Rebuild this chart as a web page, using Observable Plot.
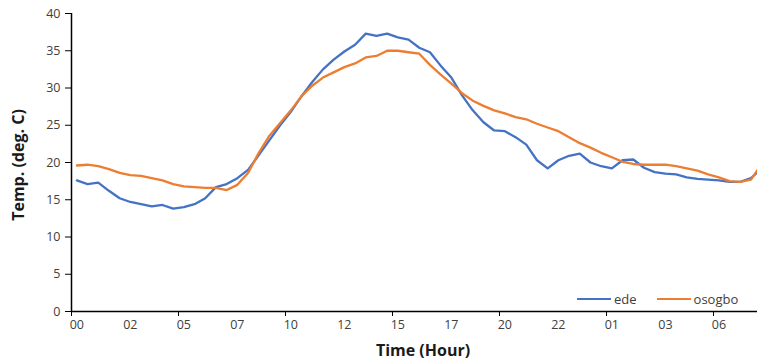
<!DOCTYPE html>
<html><head><meta charset="utf-8">
<script src="https://cdn.jsdelivr.net/npm/d3@7"></script>
<script src="https://cdn.jsdelivr.net/npm/@observablehq/plot@0.6"></script>
<style>
body{margin:0;background:#fff;}
#wrap{position:relative;width:757px;height:360px;overflow:hidden;}
.legend{position:absolute;left:577px;top:290px;font:13px 'Open Sans',sans-serif;color:#404040;display:flex;align-items:center;white-space:nowrap;}
.sw{display:inline-block;width:34px;height:2.5px;margin-right:3px;}
.xt{position:absolute;left:0;width:846px;top:339px;text-align:center;font:bold 16px 'Open Sans',sans-serif;color:#1a1a1a;}
.yt{position:absolute;left:18px;top:165px;transform:translate(-50%,-50%) rotate(-90deg);font:bold 16px 'Open Sans',sans-serif;color:#1a1a1a;white-space:nowrap;}
</style></head><body><div id="wrap"></div>
<script>
const ede = [17.6,17.1,17.3,16.2,15.2,14.7,14.4,14.1,14.3,13.8,14.0,14.4,15.2,16.7,17.1,17.9,19.0,21.0,23.0,25.0,26.8,28.9,30.8,32.5,33.8,34.9,35.8,37.3,37.0,37.3,36.8,36.5,35.4,34.8,33.0,31.4,29.0,27.0,25.4,24.3,24.2,23.4,22.4,20.3,19.2,20.3,20.9,21.2,20.0,19.5,19.2,20.3,20.4,19.3,18.7,18.5,18.4,18.0,17.8,17.7,17.6,17.4,17.4,17.9,19.2];
const osogbo = [19.6,19.7,19.5,19.1,18.6,18.3,18.2,17.9,17.6,17.1,16.8,16.7,16.6,16.6,16.3,17.0,18.6,21.3,23.6,25.3,27.0,28.9,30.3,31.4,32.1,32.8,33.3,34.1,34.3,35.0,35.0,34.8,34.6,33.1,31.8,30.6,29.3,28.3,27.6,27.0,26.6,26.1,25.8,25.2,24.7,24.2,23.4,22.6,22.0,21.3,20.7,20.1,19.8,19.7,19.7,19.7,19.5,19.2,18.9,18.4,18.0,17.5,17.4,17.7,19.8];
const seriesNames = ["ede","osogbo"];
const seriesColors = ["#4472C4","#ED7D31"];
const tickLabels = ["00","02","05","07","10","12","15","17","20","22","01","03","06"];
const yTicks = [0,5,10,15,20,25,30,35,40];
const labelEvery = 5, tickEvery = 10;

const rows = [];
[ede, osogbo].forEach((arr, k) => arr.forEach((v, i) => rows.push({i, v, s: seriesNames[k]})));
const labelPos = tickLabels.map((_, j) => j * labelEvery);
const tickPos = d3.range(-0.5, ede.length - 1, tickEvery);
const xDomain = [-0.5, 63.61];

const font = "'Open Sans', sans-serif";
const chart = Plot.plot({
  width: 757, height: 360,
  marginLeft: 71, marginRight: 0, marginTop: 13, marginBottom: 49,
  style: {fontFamily: font, fontSize: "12.5px", color: "#404040", background: "#fff"},
  x: {domain: xDomain, axis: null},
  y: {domain: [0, 40], axis: null},
  color: {domain: seriesNames, range: seriesColors},
  marks: [
    Plot.axisY({ticks: yTicks, tickSize: 6, tickPadding: 5, tickFormat: d => d, fontSize: 12.5, stroke: "#000", label: null}),
    Plot.axisX({ticks: tickPos, tickSize: 5, tickFormat: () => "", stroke: "#000", label: null}),
    Plot.axisX({ticks: labelPos, tickSize: 0, tickPadding: 9, tickFormat: (d) => tickLabels[Math.round(d / labelEvery)], fontSize: 12.5, label: null}),
    Plot.ruleY([0], {stroke: "#000", strokeWidth: 1.5}),
    Plot.ruleX([xDomain[0]], {stroke: "#000", strokeWidth: 1.5}),
    Plot.line(rows, {x: "i", y: "v", z: "s", stroke: "s", strokeWidth: 2.3, clip: true, curve: "linear"})
  ]
});
const wrap = document.getElementById("wrap");
wrap.appendChild(chart);
const xt = document.createElement("div"); xt.className = "xt"; xt.textContent = "Time (Hour)"; wrap.appendChild(xt);
const yt = document.createElement("div"); yt.className = "yt"; yt.textContent = "Temp. (deg. C)"; wrap.appendChild(yt);
const lg = document.createElement("div"); lg.className = "legend";
seriesNames.forEach((n, k) => {
  const sw = document.createElement("span"); sw.className = "sw"; sw.style.background = seriesColors[k];
  const tx = document.createElement("span"); tx.textContent = n; tx.style.marginRight = k === 0 ? "20px" : "0";
  lg.appendChild(sw); lg.appendChild(tx);
});
wrap.appendChild(lg);
</script></body></html>
